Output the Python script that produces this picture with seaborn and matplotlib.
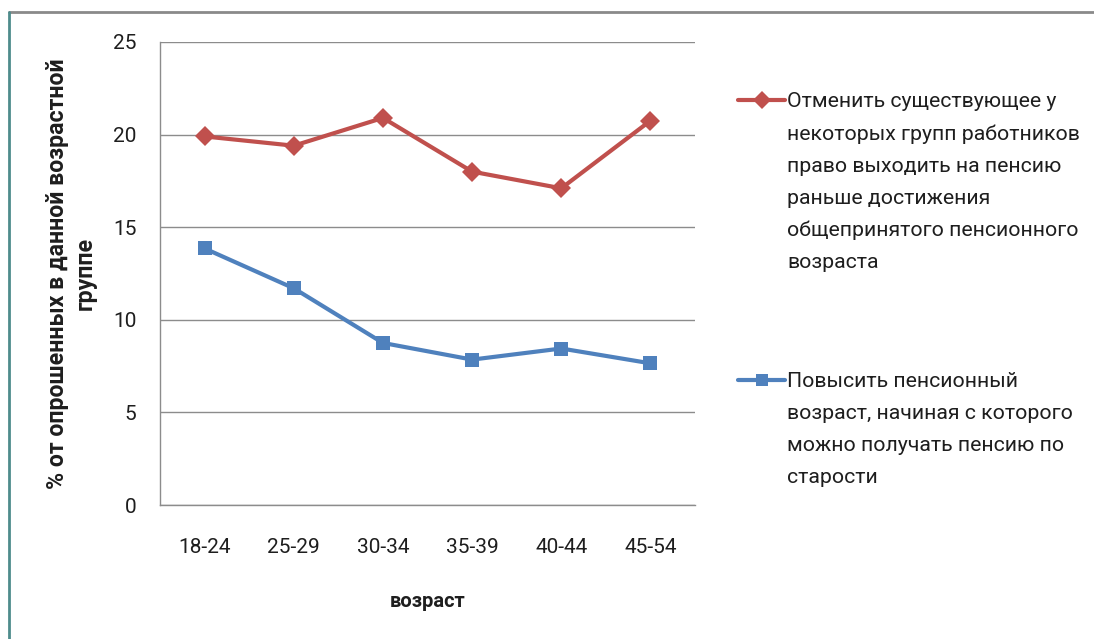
import pandas as pd
import numpy as np
import matplotlib.pyplot as plt
import seaborn as sns
from matplotlib.lines import Line2D

# --- data ---
age_groups = ['18-24', '25-29', '30-34', '35-39', '40-44', '45-54']
cancel_early = [19.9, 19.4, 20.9, 18.0, 17.1, 20.75]
raise_age = [13.85, 11.7, 8.75, 7.85, 8.45, 7.65]

label_cancel = ('Отменить существующее у\nнекоторых групп работников\n'
                'право выходить на пенсию\nраньше достижения\n'
                'общепринятого пенсионного\nвозраста')
label_raise = ('Повысить пенсионный\nвозраст, начиная с которого\n'
               'можно получать пенсию по\nстарости')

RED = '#C0504D'
BLUE = '#4F81BD'
GRID = '#8C8C8C'
TXT = '#1E1E1E'

df = pd.DataFrame({
    'age': age_groups * 2,
    'pos': list(range(len(age_groups))) * 2,
    'value': cancel_early + raise_age,
    'series': [label_cancel] * len(age_groups) + [label_raise] * len(age_groups),
})

sns.set_style('white')
plt.rcParams['font.family'] = ['Roboto', 'DejaVu Sans']

fig = plt.figure(figsize=(10.94, 6.39), dpi=100)
ax = fig.add_axes([0.1463, 0.2097, 0.489, 0.7246])

sns.lineplot(data=df, x='pos', y='value', hue='series', style='series',
             palette={label_cancel: RED, label_raise: BLUE},
             markers={label_cancel: 'D', label_raise: 's'}, dashes=False,
             linewidth=3, markersize=10.5, markeredgewidth=0, ax=ax, legend=False)

ax.set_ylim(0, 25)
ax.set_yticks(range(0, 26, 5))
ax.set_xlim(-0.5, len(age_groups) - 0.5)
ax.set_xticks(range(len(age_groups)))
ax.set_xticklabels(age_groups)
ax.set_xticks(np.arange(-0.5, len(age_groups)), minor=True)
ax.tick_params(axis='x', which='major', length=0, pad=24, labelsize=15, colors=TXT)
ax.tick_params(axis='x', which='minor', length=7, width=1, color=GRID)
ax.tick_params(axis='y', length=7, width=1, color=GRID, pad=10, labelsize=15, labelcolor=TXT)
ax.yaxis.grid(True, color=GRID, linewidth=1)
ax.set_axisbelow(True)
for s in ['top', 'right']:
    ax.spines[s].set_visible(False)
for s in ['left', 'bottom']:
    ax.spines[s].set_color(GRID)
    ax.spines[s].set_linewidth(1)

ax.set_xlabel('возраст', fontsize=14.5, fontweight='bold', labelpad=25, color=TXT)
ax.set_ylabel('% от опрошенных в данной возрастной\nгруппе', fontsize=16.7,
              fontweight='bold', labelpad=12, linespacing=1.25, color=TXT)

# legend entries, handle aligned with first text line
def add_entry(color, marker, text, y):
    h = Line2D([], [], color=color, marker=marker, linewidth=3, markersize=9, markeredgewidth=0)
    leg = fig.legend(handles=[h], labels=[text], loc='upper left',
                     bbox_to_anchor=(0.665, y), frameon=False, fontsize=15.3,
                     handlelength=2.2, handletextpad=0.1, borderpad=0)
    for col in leg._legend_handle_box.get_children():
        for hp in col.get_children():
            hp.align = 'top'
    for t in leg.get_texts():
        t.set_linespacing(1.85)
        t.set_color(TXT)
    return leg

add_entry(RED, 'D', label_cancel, 0.872)
add_entry(BLUE, 's', label_raise, 0.434)

# outer frame (top and left edges)
fig.add_artist(Line2D([0.008, 1.0], [0.981, 0.981], transform=fig.transFigure,
                      color='#8A8A8A', linewidth=2))
fig.add_artist(Line2D([0.008, 0.008], [0.0, 0.981], transform=fig.transFigure,
                      color='#4E8C8C', linewidth=2))

fig.savefig('out.png', dpi=100)
